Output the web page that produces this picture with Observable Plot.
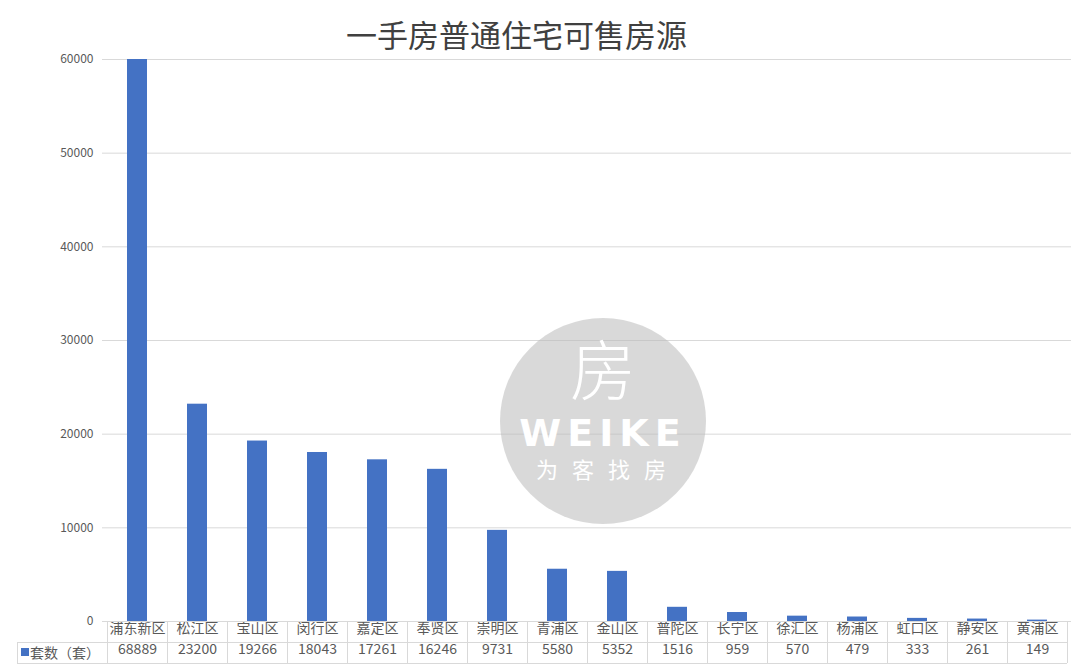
<!DOCTYPE html>
<html>
<head>
<meta charset="utf-8">
<script src="https://cdn.jsdelivr.net/npm/d3@7"></script>
<script src="https://cdn.jsdelivr.net/npm/@observablehq/plot@0.6"></script>
<style>
  body { margin: 0; background: #fff; }
  #wrap { position: relative; width: 1080px; height: 672px; overflow: hidden; font-family: "Noto Sans CJK SC", "Noto Sans", sans-serif; }
  #title { position: absolute; top: 14px; left: 346px; font-size: 31px; line-height: 40px; color: #404040; white-space: nowrap; font-family: "Noto Sans CJK SC", sans-serif; }
  #chart { position: absolute; top: 50px; left: 0; }
  #wm { position: absolute; left: 500px; top: 318px; width: 206px; height: 206px; border-radius: 50%; background: rgba(185,185,185,0.55); color: #fff; text-align: center; pointer-events: none; }
  #wm .logo { position: absolute; top: 8px; left: 0; width: 100%; font-size: 66px; line-height: 80px; font-weight: 300; }
  #wm .en { position: absolute; top: 97px; left: 0; width: 100%; font-family: "DejaVu Sans", sans-serif; font-size: 38px; line-height: 36px; font-weight: bold; letter-spacing: 6px; }
  #wm .cn { position: absolute; top: 138px; left: 0; width: 100%; font-size: 22px; line-height: 24px; letter-spacing: 14px; padding-left: 10px; box-sizing: border-box; }
</style>
</head>
<body>
<div id="wrap">
  <div id="title">一手房普通住宅可售房源</div>
  <div id="chart"></div>
  <div id="wm"><div class="logo">房</div><div class="en">WEIKE</div><div class="cn">为客找房</div></div>
</div>
<script>
const chartTitle = "一手房普通住宅可售房源";
const seriesName = "套数（套）";
const categories = ["浦东新区","松江区","宝山区","闵行区","嘉定区","奉贤区","崇明区","青浦区","金山区","普陀区","长宁区","徐汇区","杨浦区","虹口区","静安区","黄浦区"];
const values = [68889, 23200, 19266, 18043, 17261, 16246, 9731, 5580, 5352, 1516, 959, 570, 479, 333, 261, 149];
const yTicks = [0, 10000, 20000, 30000, 40000, 50000, 60000];

const data = categories.map((c, i) => ({district: c, count: values[i]}));
const blue = "#4472C4";
const gray = "#595959";
const lineColor = "#d9d9d9";

const plot = Plot.plot({
  width: 1080,
  height: 622,
  marginTop: 9,
  marginBottom: 51,
  marginLeft: 102,
  marginRight: 9,
  style: {color: gray, fontFamily: "'Noto Sans CJK SC', 'Noto Sans', sans-serif", background: "transparent", overflow: "visible"},
  x: {domain: categories, paddingInner: 0.67, paddingOuter: 0.335, label: null, axis: null},
  y: {domain: [0, 60000], label: null},
  marks: [
    Plot.gridY(yTicks, {stroke: lineColor, strokeOpacity: 1}),
    Plot.barY(data, {x: "district", y: "count", fill: blue, clip: true}),
    Plot.axisY(yTicks, {tickSize: 0, tickPadding: 9, tickFormat: d => String(d), fontSize: 12, label: null}),
    Plot.text(data, {x: "district", text: "district", frameAnchor: "bottom", dy: 11, fontSize: 14, fill: gray}),
    Plot.text(data, {x: "district", text: d => String(d.count), frameAnchor: "bottom", dy: 32, fontSize: 14, fill: gray})
  ]
});

document.getElementById("chart").appendChild(plot);

// data table grid lines, using Plot's x scale
const xs = plot.scale("x");
const step = xs.step;
const centers = categories.map(c => xs.apply(c) + xs.bandwidth / 2);
const edges = [centers[0] - step / 2, ...centers.map(c => c + step / 2)];
const y0 = 571, y1 = 592, y2 = 613, legendLeft = 17;
const right = edges[edges.length - 1];
const g = d3.select(plot).append("g").attr("stroke", lineColor).attr("stroke-width", 1).attr("shape-rendering", "crispEdges");
g.append("line").attr("x1", edges[0]).attr("x2", right).attr("y1", y0).attr("y2", y0);
g.append("line").attr("x1", legendLeft).attr("x2", right).attr("y1", y1).attr("y2", y1);
g.append("line").attr("x1", legendLeft).attr("x2", right).attr("y1", y2).attr("y2", y2);
edges.forEach(e => g.append("line").attr("x1", e).attr("x2", e).attr("y1", y0).attr("y2", y2));
g.append("line").attr("x1", legendLeft).attr("x2", legendLeft).attr("y1", y1).attr("y2", y2);
const lg = d3.select(plot).append("g").attr("text-anchor", "start");
lg.append("rect").attr("x", 21).attr("y", 598).attr("width", 8).attr("height", 8).attr("fill", blue);
lg.append("text").attr("x", 30).attr("y", 603).attr("dy", "0.35em").attr("text-anchor", "start").attr("font-size", 14).attr("fill", gray).text(seriesName);
</script>
</body>
</html>
